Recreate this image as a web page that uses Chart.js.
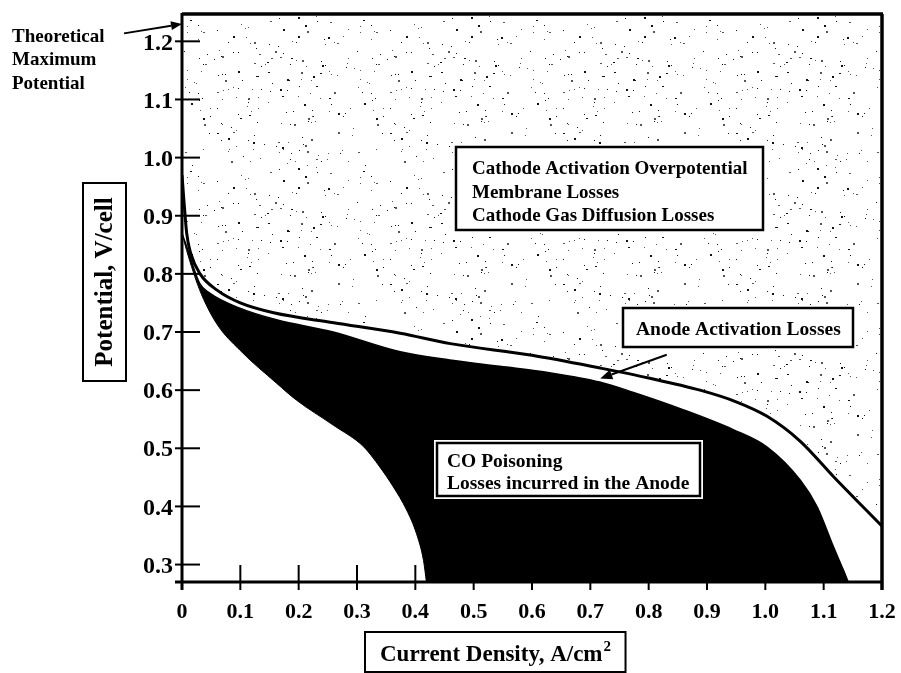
<!DOCTYPE html>
<html>
<head>
<meta charset="utf-8">
<title>PEM cell polarization losses</title>
<script src="https://cdn.jsdelivr.net/npm/chart.js@4.4.0/dist/chart.umd.min.js"></script>
<style>
  html, body { margin:0; padding:0; background:#fff; }
  #wrap { width:901px; height:673px; }
</style>
</head>
<body>
<div id="wrap"><canvas id="polar" width="901" height="673"></canvas></div>
<script>
/* ====== data (current density A/cm2, potential V/cell) ====== */
// outer curve: cell with cathode losses only
const topI = [0, 0.003, 0.008, 0.015, 0.031, 0.06, 0.1, 0.157, 0.26, 0.374, 0.46, 0.6, 0.717, 0.8, 0.888, 0.95, 1.003, 1.06, 1.117, 1.2];
const topV = [0.97, 0.93, 0.87, 0.835, 0.80, 0.772, 0.75, 0.733, 0.716, 0.698, 0.68, 0.66, 0.638, 0.621, 0.60, 0.58, 0.555, 0.512, 0.451, 0.366];
// after anode activation losses
const midI = [0, 0.008, 0.03, 0.0475, 0.099, 0.162, 0.259, 0.374, 0.459, 0.545, 0.63, 0.716, 0.774, 0.86, 0.945, 1.003, 1.06, 1.089, 1.117, 1.134, 1.142];
const midV = [0.87, 0.847, 0.784, 0.767, 0.741, 0.721, 0.70, 0.666, 0.652, 0.641, 0.63, 0.614, 0.596, 0.566, 0.532, 0.502, 0.445, 0.399, 0.33, 0.29, 0.27];
// CO poisoned anode
const coI = [0, 0.008, 0.03, 0.059, 0.099, 0.162, 0.196, 0.259, 0.311, 0.339, 0.362, 0.385, 0.402, 0.414, 0.419];
const coV = [0.87, 0.84, 0.773, 0.715, 0.669, 0.612, 0.583, 0.54, 0.503, 0.468, 0.434, 0.394, 0.353, 0.307, 0.27];

const xTickValues = [0, 0.1, 0.2, 0.3, 0.4, 0.5, 0.6, 0.7, 0.8, 0.9, 1.0, 1.1, 1.2];
const xTickLabels = ['0', '0.1', '0.2', '0.3', '0.4', '0.5', '0.6', '0.7', '0.8', '0.9', '1.0', '1.1', '1.2'];
const yTickValues = [0.3, 0.4, 0.5, 0.6, 0.7, 0.8, 0.9, 1.0, 1.1, 1.2];
const yTickLabels = ['0.3', '0.4', '0.5', '0.6', '0.7', '0.8', '0.9', '1.0', '1.1', '1.2'];
const theoreticalMax = 1.23;

const SERIF = '"Liberation Serif", "Times New Roman", serif';
const pts = (xs, ys) => xs.map((x, i) => ({ x, y: ys[i] }));

/* ====== stipple texture for the cathode loss area ====== */
function makeStipple(ctx) {
  const c = document.createElement('canvas');
  c.width = 173; c.height = 151;
  const g = c.getContext('2d');
  let s = 11;
  const rnd = () => (s = (s * 16807) % 2147483647) / 2147483647;
  for (let i = 0; i < 210; i++) {
    const px = Math.floor(rnd() * c.width), py = Math.floor(rnd() * c.height);
    const big = rnd() < 0.3;
    g.fillStyle = rnd() < 0.5 ? '#111' : '#555';
    g.fillRect(px, py, big ? 2 : 1, big && rnd() < 0.6 ? 2 : 1);
  }
  return ctx.createPattern(c, 'repeat');
}

/* ====== drawing helpers ====== */
function seg(ctx, x1, y1, x2, y2) {
  ctx.beginPath(); ctx.moveTo(x1, y1); ctx.lineTo(x2, y2); ctx.stroke();
}
function arrow(ctx, x1, y1, x2, y2, headLen, headW) {
  const ang = Math.atan2(y2 - y1, x2 - x1);
  const bx = x2 - headLen * Math.cos(ang), by = y2 - headLen * Math.sin(ang);
  seg(ctx, x1, y1, bx, by);
  ctx.beginPath();
  ctx.moveTo(x2, y2);
  ctx.lineTo(bx + headW * Math.sin(ang), by - headW * Math.cos(ang));
  ctx.lineTo(bx - headW * Math.sin(ang), by + headW * Math.cos(ang));
  ctx.closePath(); ctx.fill();
}
function textBox(ctx, b) {
  ctx.fillStyle = '#fff';
  ctx.fillRect(b.x - 3, b.y - 3, b.w + 6, b.h + 6);
  ctx.strokeStyle = '#000'; ctx.lineWidth = b.lw || 2.5;
  ctx.strokeRect(b.x, b.y, b.w, b.h);
  if (b.outer) { ctx.lineWidth = 1; ctx.strokeRect(b.x - 4, b.y - 4, b.w + 8, b.h + 8); }
  ctx.fillStyle = '#000';
  ctx.font = 'bold ' + b.size + 'px ' + SERIF;
  ctx.textAlign = 'left'; ctx.textBaseline = 'alphabetic';
  b.lines.forEach((t, i) => ctx.fillText(t, b.tx, b.ty + i * b.gap));
}

/* ====== frame, inner ticks, labels and notes ====== */
const decor = {
  id: 'decor',
  afterDatasetsDraw(chart) {
    const { ctx, chartArea: a, scales: { x, y } } = chart;
    ctx.save();
    ctx.strokeStyle = '#000'; ctx.fillStyle = '#000';

    // tick marks crossing the axes
    ctx.lineWidth = 2;
    yTickValues.forEach(v => { const py = y.getPixelForValue(v); seg(ctx, a.left - 7, py, a.left + 18, py); });
    xTickValues.forEach(v => { const px = x.getPixelForValue(v); seg(ctx, px, a.bottom - 17, px, a.bottom + 8); });

    // plot frame
    ctx.lineWidth = 3;
    seg(ctx, a.left, a.top - 1, a.left, a.bottom + 8);
    seg(ctx, a.left - 7, a.bottom, a.right + 1, a.bottom);
    ctx.lineWidth = 3.5;
    seg(ctx, a.left, a.top, a.right + 1, a.top);
    seg(ctx, a.right, a.top, a.right, a.bottom + 8);

    // theoretical maximum
    const tx = x.getPixelForValue(0), ty = y.getPixelForValue(theoreticalMax);
    ctx.lineWidth = 2;
    arrow(ctx, tx - 58, ty + 9.5, tx, ty, 11, 4.5);
    ctx.font = 'bold 19px ' + SERIF;
    ctx.textAlign = 'left'; ctx.textBaseline = 'alphabetic';
    ['Theoretical', 'Maximum', 'Potential'].forEach((t, i) => ctx.fillText(t, 12, 41.5 + i * 23.5));

    // loss annotations
    textBox(ctx, { x: 456, y: 147, w: 307, h: 83, size: 19, tx: 472, ty: 174, gap: 23.5,
      lines: ['Cathode Activation Overpotential', 'Membrane Losses', 'Cathode Gas Diffusion Losses'] });
    textBox(ctx, { x: 623, y: 308, w: 230, h: 39, size: 19.5, tx: 636, ty: 335, gap: 0,
      lines: ['Anode Activation Losses'] });
    textBox(ctx, { x: 437, y: 443, w: 263, h: 53, size: 19.5, tx: 447, ty: 467, gap: 21.5, outer: true,
      lines: ['CO Poisoning', 'Losses incurred in the Anode'] });
    ctx.lineWidth = 2; ctx.fillStyle = '#000';
    arrow(ctx, x.getPixelForValue(0.831), y.getPixelForValue(0.661),
               x.getPixelForValue(0.717), y.getPixelForValue(0.62), 12, 5);

    // axis titles in frames
    ctx.lineWidth = 2;
    ctx.strokeRect(83, 183, 43, 198);
    ctx.save();
    ctx.translate(106, 282);
    ctx.rotate(-Math.PI / 2);
    ctx.font = 'bold 25px ' + SERIF;
    ctx.textAlign = 'center'; ctx.textBaseline = 'middle';
    ctx.fillText('Potential, V/cell', 0, 0);
    ctx.restore();

    ctx.font = 'bold 23px ' + SERIF;
    ctx.textAlign = 'left'; ctx.textBaseline = 'alphabetic';
    const main = 'Current Density, A/cm';
    const w = ctx.measureText(main).width;
    ctx.fillText(main, 380, 661);
    ctx.font = 'bold 15px ' + SERIF;
    ctx.fillText('2', 380 + w + 1, 651);
    ctx.strokeRect(365, 632, w + 38, 40);

    ctx.restore();
  }
};

/* ====== chart ====== */
const canvas = document.getElementById('polar');
const ctx = canvas.getContext('2d');
const stipple = makeStipple(ctx);

const tickFont = size => ({ family: SERIF, weight: 'bold', size });
// keep the plot box fixed: no extra room for edge labels
const noEdgePad = s => { s.paddingLeft = 0; s.paddingRight = 0; s.paddingTop = 0; s.paddingBottom = 0; };

new Chart(ctx, {
  type: 'line',
  data: {
    datasets: [
      { label: 'Anode activation', data: pts(midI, midV), order: 3,
        borderColor: '#000', borderWidth: 1.5, backgroundColor: '#000', fill: 'start' },
      { label: 'CO poisoning', data: pts(coI, coV), order: 2,
        borderColor: '#000', borderWidth: 1, backgroundColor: '#fff', fill: 'start' },
      { label: 'Cathode losses', data: pts(topI, topV), order: 1,
        borderColor: '#000', borderWidth: 3, backgroundColor: stipple, fill: 'end' }
    ]
  },
  options: {
    responsive: false,
    animation: false,
    devicePixelRatio: 1,
    layout: { padding: { left: 0, top: 14, right: 19, bottom: 0 } },
    elements: {
      point: { radius: 0 },
      line: { cubicInterpolationMode: 'monotone' }
    },
    scales: {
      x: {
        type: 'linear', min: 0, max: 1.2,
        afterBuildTicks: s => { s.ticks = xTickValues.map(v => ({ value: v })); },
        afterFit: s => { s.height = 91; noEdgePad(s); },
        grid: { display: false, drawTicks: false },
        border: { display: false },
        ticks: {
          autoSkip: false, maxRotation: 0, padding: 17, color: '#000', font: tickFont(22),
          callback: (v, i) => xTickLabels[i]
        }
      },
      y: {
        type: 'linear', min: 0.27, max: 1.247,
        afterBuildTicks: s => { s.ticks = yTickValues.map(v => ({ value: v })); },
        afterFit: s => { s.width = 182; noEdgePad(s); },
        grid: { display: false, drawTicks: false },
        border: { display: false },
        ticks: {
          padding: 9, color: '#000', font: tickFont(24), labelOffset: 2,
          callback: (v, i) => yTickLabels[i]
        }
      }
    },
    plugins: {
      legend: { display: false },
      tooltip: { enabled: false }
    }
  },
  plugins: [decor]
});
</script>
</body>
</html>
